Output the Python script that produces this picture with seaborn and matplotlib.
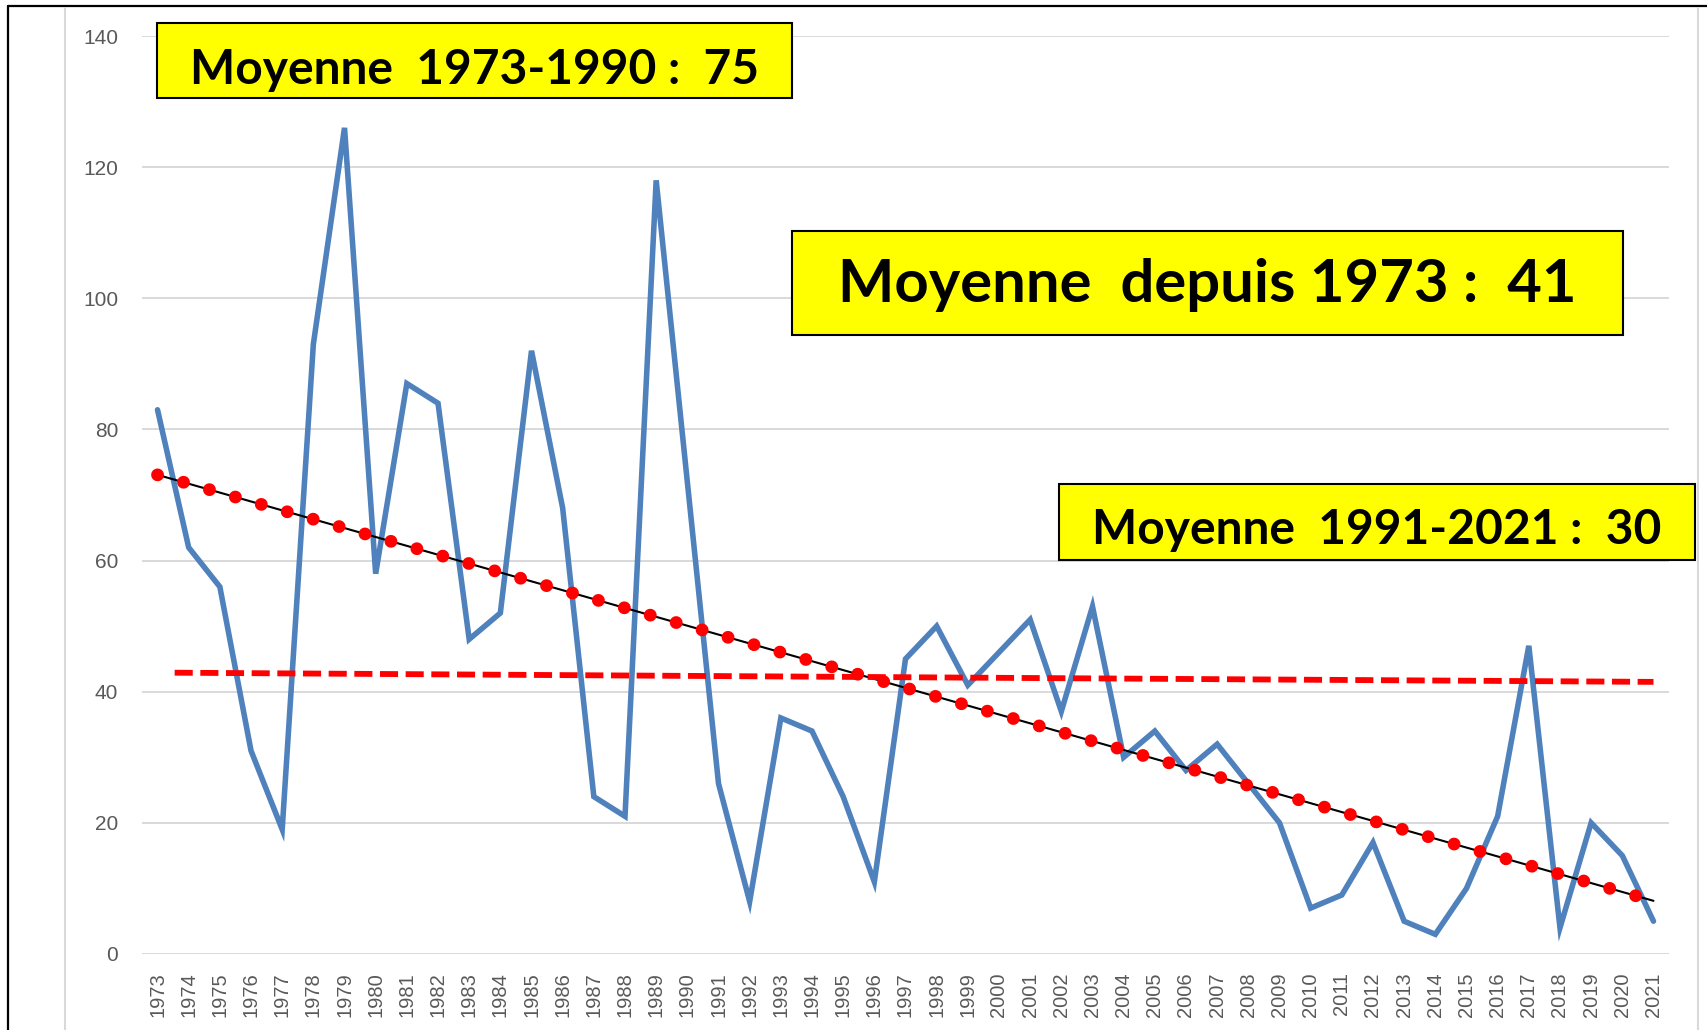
import numpy as np
import pandas as pd
import matplotlib.pyplot as plt
import seaborn as sns
from matplotlib.lines import Line2D
from matplotlib.patches import Rectangle


# valeurs annuelles
annees = list(range(1973, 2022))
valeurs = [83, 62, 56, 31, 19, 93, 126, 58, 87, 84, 48, 52, 92, 68, 24, 21, 118, 72,
           26, 8, 36, 34, 24, 11, 45, 50, 41, 46, 51, 37, 53, 30, 34, 28, 32, 26, 20,
           7, 9, 17, 5, 3, 10, 21, 47, 4, 20, 15, 5]

# ligne rouge tiretee "moyenne depuis 1973" (legerement inclinee sur l'original)
moy_x = [1973.55, 2021.0]
moy_y = [42.9, 41.5]

y_ticks = [0, 20, 40, 60, 80, 100, 120, 140]

textes = ["Moyenne  1973-1990 :  75",
          "Moyenne  depuis 1973 :  41",
          "Moyenne  1991-2021 :  30"]

df = pd.DataFrame({'annee': annees, 'valeur': valeurs})

sns.set_style('white')
plt.rcParams['font.family'] = ['Liberation Sans', 'DejaVu Sans']

fig = plt.figure(figsize=(17.08, 10.30), dpi=100)
ax = fig.add_axes([0.0831, 0.0738, 0.9772 - 0.0831, 0.965 - 0.0738])

sns.lineplot(data=df, x='annee', y='valeur', ax=ax, color='#4F81BD', lw=4.0,
             solid_joinstyle='miter', zorder=2)
sns.regplot(data=df, x='annee', y='valeur', ax=ax, scatter=False, ci=None,
            line_kws=dict(color='black', lw=1.5, zorder=3))
ax.plot(moy_x, moy_y, color='#FF0000', lw=4.2, linestyle=(0, (3.1, 1.3)), zorder=4)
sns.regplot(data=df, x='annee', y='valeur', ax=ax, scatter=False, ci=None,
            line_kws=dict(color='#FF0000', lw=9.2, linestyle=(0, (0.01, 2.1)),
                          dash_capstyle='round', zorder=5))

ax.set_xlim(1972.5, 2021.5)
ax.set_ylim(0, 140)
ax.set_xticks(annees)
ax.set_xticklabels([str(a) for a in annees], rotation=90, fontsize=14.5, color='#595959')
ax.set_yticks(y_ticks)
ax.set_yticklabels([str(v) for v in y_ticks], fontsize=15, color='#595959')
ax.tick_params(axis='x', length=0, pad=13)
ax.tick_params(axis='y', length=0, pad=17)
ax.yaxis.grid(True, color='#D9D9D9', lw=1.4)
ax.xaxis.grid(False)
ax.set_axisbelow(True)
for s in ax.spines.values():
    s.set_visible(False)
ax.set_xlabel('')
ax.set_ylabel('')

# cadre de la capture
fig.add_artist(Line2D([0.0047, 1.0], [0.9942, 0.9942], color='black', lw=1.6))
fig.add_artist(Line2D([0.0047, 0.0047], [0.0, 0.9942], color='black', lw=1.6))
fig.add_artist(Line2D([0.038, 0.038], [0.0, 0.992], color='#D9D9D9', lw=1.5))
fig.add_artist(Line2D([0.9941, 0.9941], [0.0, 0.992], color='#D9D9D9', lw=1.5))

# encadres jaunes
boites = [(0.0919, 0.9049, 0.3718, 0.0728, 0.9184, 34.5),
          (0.4637, 0.6748, 0.4865, 0.1010, 0.7068, 43),
          (0.6200, 0.4563, 0.3724, 0.0738, 0.4723, 34.5)]
for txt, (x0, y0, w, h, yb, fs) in zip(textes, boites):
    fig.add_artist(Rectangle((x0, y0), w, h, transform=fig.transFigure,
                             facecolor='#FFFF00', edgecolor='black', lw=1.5, zorder=10))
    fig.text(x0 + w / 2, yb, txt, ha='center', va='baseline', fontsize=fs,
             fontweight='bold', family=['Lato', 'DejaVu Sans'], color='black', zorder=11)

fig.savefig('out.png', dpi=100)
